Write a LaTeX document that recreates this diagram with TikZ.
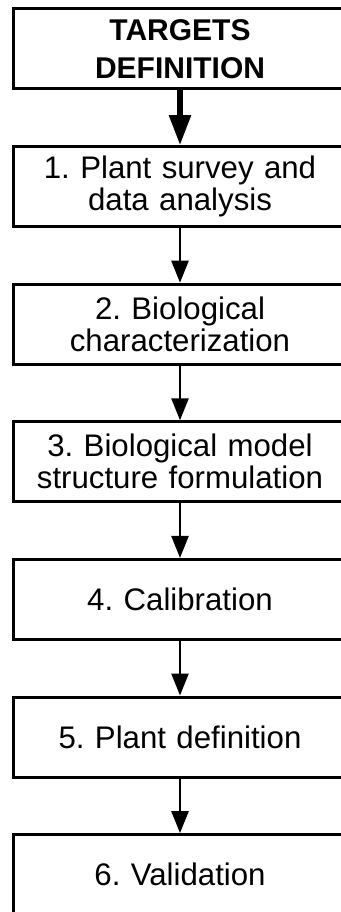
\documentclass[tikz,border=0pt]{standalone}
\usepackage{fontspec}
\setmainfont{Liberation Sans}
\frenchspacing
\usetikzlibrary{arrows.meta}
\tikzset{
  block/.style  = {rectangle, draw, line width=2.25pt, fill=white, text width=240pt,
                   text centered, minimum width=249.75pt, minimum height=60pt,
                   inner sep=0pt, font=\fontsize{23.4pt}{24pt}\selectfont},
  blockT/.style = {block, font=\bfseries\fontsize{22.5pt}{28.5pt}\selectfont},
  arrow/.style  = {line width=1.9pt, -{Triangle[length=16.5pt, width=12.75pt]}},
  tarrow/.style = {line width=4.1pt, -{Triangle[length=22.5pt, width=15.75pt]}},
}

\begin{document}
\begin{tikzpicture}[x=0.75pt, y=-0.75pt]

    \useasboundingbox (0,0) rectangle (341,912);

    %% ===================== BOXES =====================
    \node[blockT] (targets) at (180,  49.0) {TARGETS\\DEFINITION};
    \node[block]  (survey)  at (180, 186.6) {1. Plant survey and\\data analysis};
    \node[block]  (charac)  at (180, 324.2) {2. Biological\\characterization};
    \node[block]  (model)   at (180, 461.8) {3. Biological model\\structure formulation};
    \node[block]  (calib)   at (180, 599.4) {4. Calibration};
    \node[block]  (plant)   at (180, 737.0) {5. Plant definition};
    \node[block]  (valid)   at (180, 874.6) {6. Validation};

    %% ===================== ARROWS =====================
    \draw[tarrow] (targets.south) -- (survey.north);
    \draw[arrow]  (survey.south)  -- (charac.north);
    \draw[arrow]  (charac.south)  -- (model.north);
    \draw[arrow]  (model.south)   -- (calib.north);
    \draw[arrow]  (calib.south)   -- (plant.north);
    \draw[arrow]  (plant.south)   -- (valid.north);

\end{tikzpicture}
\end{document}
